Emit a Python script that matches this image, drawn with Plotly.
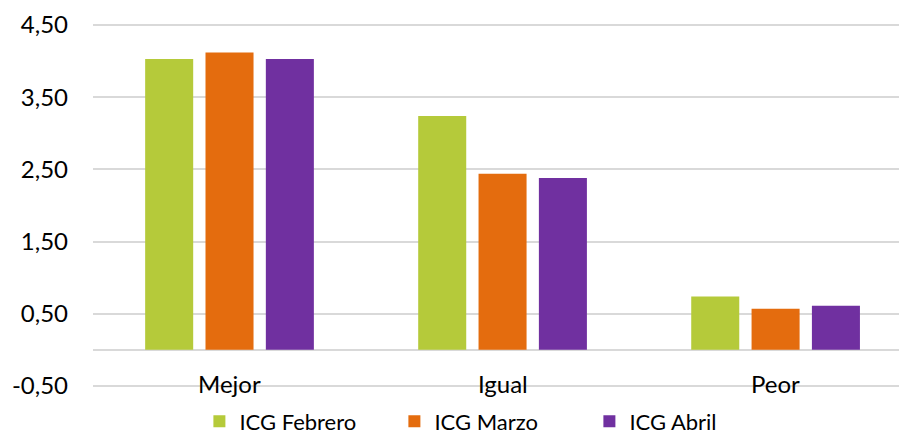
import plotly.graph_objects as go

categories = ["Mejor", "Igual", "Peor"]
feb = [4.03, 3.24, 0.74]
mar = [4.12, 2.44, 0.57]
abr = [4.03, 2.38, 0.61]
series_names = ["ICG Febrero", "ICG Marzo", "ICG Abril"]
colors = ["#B5CA3A", "#E46C0E", "#7030A0"]
y_ticks = [-0.5, 0.5, 1.5, 2.5, 3.5, 4.5]
y_tick_labels = ["-0,50", "0,50", "1,50", "2,50", "3,50", "4,50"]

FONT = "Lato"
FS = 24
fig = go.Figure()
for name, vals, col in zip(series_names, [feb, mar, abr], colors):
    fig.add_trace(go.Bar(x=categories, y=vals, name=name, marker=dict(color=col, line=dict(width=0))))

for c in categories:
    fig.add_annotation(x=c, y=-0.5, xref="x", yref="y", text=c, showarrow=False,
                       yanchor="middle", yshift=2, font=dict(family=FONT, size=FS, color="#000000"))

fig.update_layout(
    width=899, height=435,
    margin=dict(l=93, r=0, t=24, b=48, autoexpand=False),
    paper_bgcolor="white", plot_bgcolor="white",
    separators=",.",
    barmode="group", bargap=0.337, bargroupgap=0.204,
    font=dict(family=FONT, size=FS, color="#000000"),
    showlegend=True,
    legend=dict(orientation="h", x=0.132, xanchor="left", y=-0.095, yanchor="middle",
                font=dict(family=FONT, size=22, color="#000000"),
                entrywidth=150, itemsizing="constant", traceorder="normal",
                bgcolor="rgba(0,0,0,0)"),
    xaxis=dict(type="category", range=[-0.5, 2.452], showticklabels=False, showgrid=False,
               showline=False, zeroline=False),
    yaxis=dict(range=[-0.515, 4.515], tickvals=y_ticks, ticktext=y_tick_labels, showgrid=True,
               gridcolor="#D9D9D9", gridwidth=1.5, zeroline=True, zerolinecolor="#D9D9D9",
               zerolinewidth=1.5, showline=False, ticklabelstandoff=24,
               tickfont=dict(family=FONT, size=FS, color="#000000")),
)

fig.write_html("out.html", config={"displayModeBar": False},
               post_script="document.body.style.margin='0';document.body.style.padding='0';")
